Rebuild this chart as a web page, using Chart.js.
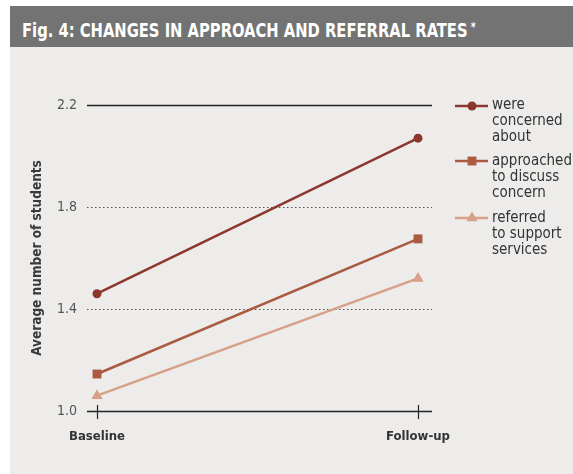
<!DOCTYPE html>
<html>
<head>
<meta charset="utf-8">
<script src="https://cdn.jsdelivr.net/npm/chart.js@4/dist/chart.umd.min.js"></script>
<style>
  body { margin: 0; background: #fff; width: 573px; height: 474px; overflow: hidden; position: relative; }
  #header { position: absolute; left: 10px; top: 6px; width: 563px; height: 41px; background: #737373;
    padding-left: 12px; box-sizing: border-box; white-space: nowrap; }
  #header span { display: inline-block; color: #fff; font-family: 'DejaVu Sans Condensed', 'DejaVu Sans';
    font-weight: bold; font-size: 20px; line-height: 42px; transform: scaleX(0.82); transform-origin: 0 50%; }
  #header sup { font-size: 13px; vertical-align: 6px; margin-left: 4px; }
  #panel { position: absolute; left: 10px; top: 47px; right: 0; bottom: 0; background: #edecea; }
  #wrap { position: absolute; left: 0; top: 0; width: 573px; height: 474px; }
  .leg { position: absolute; left: 492px; font-family: 'DejaVu Sans Condensed', 'DejaVu Sans'; font-size: 15px;
    line-height: 16px; color: #333; }
</style>
</head>
<body>
<div id="header"><span>Fig. 4: CHANGES IN APPROACH AND REFERRAL RATES<sup>*</sup></span></div>
<div id="panel"></div>
<div id="wrap"><canvas id="myChart" width="573" height="474"></canvas></div>
<div class="leg" style="top:96px">were<br>concerned<br>about</div>
<div class="leg" style="top:152px">approached<br>to discuss<br>concern</div>
<div class="leg" style="top:209px">referred<br>to support<br>services</div>
<script>
const categories = ['Baseline', 'Follow-up'];
const concerned = [1.46, 2.07];
const approached = [1.145, 1.675];
const referred = [1.06, 1.52];
const yTicks = [1.0, 1.4, 1.8, 2.2];

const seriesStyles = [
  { label: 'were concerned about', data: concerned, color: '#8c372d', pointStyle: 'circle', r: 4.5, legendY: 106 },
  { label: 'approached to discuss concern', data: approached, color: '#aa5a41', pointStyle: 'rect', r: 6.3, legendY: 161 },
  { label: 'referred to support services', data: referred, color: '#d7a087', pointStyle: 'triangle', r: 6.5, legendY: 218 }
];

// gridlines, axis ticks and legend markers
const decorPlugin = {
  id: 'decor',
  beforeDatasetsDraw(chart) {
    const ctx = chart.ctx;
    const area = chart.chartArea;
    const y = chart.scales.y;
    const x = chart.scales.x;
    const left = area.left - 10, right = area.right + 14;
    ctx.save();
    yTicks.forEach(function (v) {
      const py = Math.round(y.getPixelForValue(v)) + 0.5;
      ctx.beginPath();
      if (v === 1.0 || v === 2.2) {
        ctx.setLineDash([]);
        ctx.strokeStyle = '#222';
        ctx.lineWidth = 1.5;
      } else {
        ctx.setLineDash([1.5, 2.5]);
        ctx.strokeStyle = '#555';
        ctx.lineWidth = 1;
      }
      ctx.moveTo(left, py);
      ctx.lineTo(right, py);
      ctx.stroke();
    });
    ctx.setLineDash([]);
    ctx.strokeStyle = '#222';
    ctx.lineWidth = 1.2;
    categories.forEach(function (c, i) {
      const px = Math.round(x.getPixelForValue(i)) + 0.5;
      ctx.beginPath();
      ctx.moveTo(px, area.bottom - 6);
      ctx.lineTo(px, area.bottom + 8);
      ctx.stroke();
    });
    ctx.restore();
  },
  afterDraw(chart) {
    const ctx = chart.ctx;
    ctx.save();
    seriesStyles.forEach(function (s) {
      const cx = 472, cy = s.legendY;
      ctx.strokeStyle = s.color;
      ctx.fillStyle = s.color;
      ctx.lineWidth = 2.5;
      ctx.beginPath();
      ctx.moveTo(455, cy);
      ctx.lineTo(488, cy);
      ctx.stroke();
      ctx.beginPath();
      if (s.pointStyle === 'circle') {
        ctx.arc(cx, cy, s.r, 0, Math.PI * 2);
      } else if (s.pointStyle === 'rect') {
        const h = s.r * Math.SQRT1_2;
        ctx.rect(cx - h, cy - h, 2 * h, 2 * h);
      } else {
        ctx.moveTo(cx, cy - s.r);
        ctx.lineTo(cx + s.r * 0.866, cy + s.r * 0.5);
        ctx.lineTo(cx - s.r * 0.866, cy + s.r * 0.5);
        ctx.closePath();
      }
      ctx.fill();
    });
    ctx.restore();
  }
};

new Chart(document.getElementById('myChart').getContext('2d'), {
  type: 'line',
  data: {
    labels: categories,
    datasets: seriesStyles.map(function (s) {
      return {
        label: s.label,
        data: s.data,
        borderColor: s.color,
        backgroundColor: s.color,
        borderWidth: 2.5,
        pointStyle: s.pointStyle,
        pointRadius: s.r,
        pointBorderWidth: 0,
        clip: false
      };
    })
  },
  options: {
    responsive: false,
    animation: false,
    layout: { padding: { left: 0, top: 105, right: 155, bottom: 23 } },
    plugins: { legend: { display: false }, tooltip: { enabled: false } },
    scales: {
      x: {
        offset: false,
        grid: { display: false, drawTicks: false },
        border: { display: false },
        afterFit: function (s) { s.height = 40; },
        ticks: {
          padding: 18,
          color: '#333',
          font: { family: 'DejaVu Sans Condensed', weight: 'bold', size: 13 }
        }
      },
      y: {
        min: 1.0,
        max: 2.2,
        grid: { display: false, drawTicks: false },
        border: { display: false },
        afterFit: function (s) { s.width = 97; },
        afterBuildTicks: function (s) { s.ticks = yTicks.map(function (v) { return { value: v }; }); },
        ticks: {
          padding: 20,
          color: '#555',
          font: { family: 'DejaVu Sans Condensed', size: 14 },
          callback: function (v) { return v.toFixed(1); }
        },
        title: {
          display: true,
          text: 'Average number of students',
          color: '#3a3a3a',
          padding: { top: 29, bottom: 0 },
          font: { family: 'DejaVu Sans Condensed', weight: 'bold', size: 13.5 }
        }
      }
    }
  },
  plugins: [decorPlugin]
});
</script>
</body>
</html>
